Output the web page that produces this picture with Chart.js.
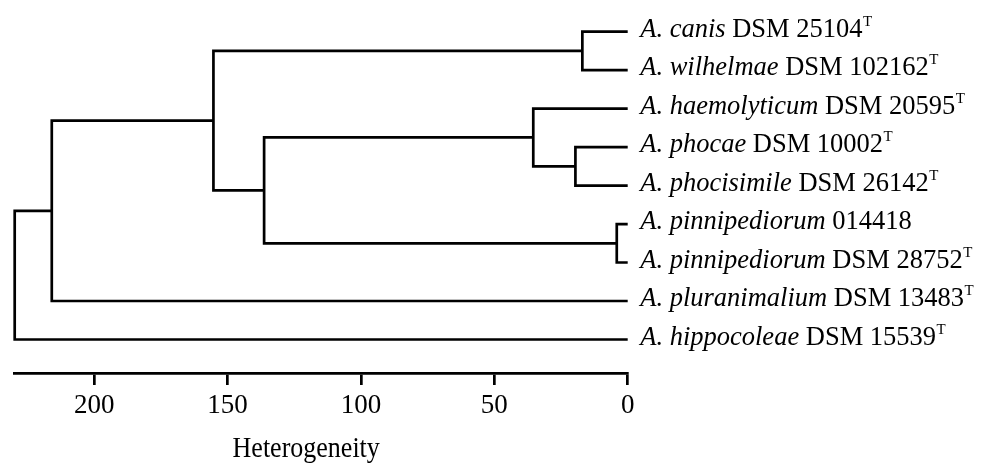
<!DOCTYPE html>
<html>
<head>
<meta charset="utf-8">
<script src="https://cdn.jsdelivr.net/npm/chart.js@4/dist/chart.umd.min.js"></script>
<style>
  html, body { margin: 0; padding: 0; background: #fff; }
  #wrap { width: 987px; height: 463px; }
</style>
</head>
<body>
<div id="wrap"><canvas id="tree" width="987" height="463"></canvas></div>
<script>
// leaves, top to bottom
const species = ['A. canis', 'A. wilhelmae', 'A. haemolyticum', 'A. phocae', 'A. phocisimile',
                 'A. pinnipediorum', 'A. pinnipediorum', 'A. pluranimalium', 'A. hippocoleae'];
const strains = ['DSM 25104', 'DSM 102162', 'DSM 20595', 'DSM 10002', 'DSM 26142',
                 '014418', 'DSM 28752', 'DSM 13483', 'DSM 15539'];
const typeStrain = [true, true, true, true, true, false, true, true, true];

// merges: ids 0-8 are leaves, merge i creates node 9+i
const mergeA = [0, 3, 5, 2, 12, 9, 14, 15];
const mergeB = [1, 4, 6, 10, 11, 13, 7, 8];
const mergeHeight = [17.0, 19.6, 4.1, 35.4, 136.3, 155.3, 215.9, 229.8];

const xTicks = [0, 50, 100, 150, 200];
const axisTitle = 'Heterogeneity';

const nLeaf = species.length;
const nodeRow = [], nodeH = [];
for (let i = 0; i < nLeaf; i++) { nodeRow.push(i); nodeH.push(0); }

const datasets = [];
mergeA.forEach(function(a, i) {
  const b = mergeB[i], h = mergeHeight[i];
  datasets.push({
    data: [
      {x: nodeH[a], y: nodeRow[a]},
      {x: h, y: nodeRow[a]},
      {x: h, y: nodeRow[b]},
      {x: nodeH[b], y: nodeRow[b]}
    ],
    showLine: true,
    borderColor: '#000',
    borderWidth: 2.7,
    borderJoinStyle: 'miter',
    borderCapStyle: 'butt',
    pointRadius: 0,
    tension: 0,
    clip: false
  });
  nodeRow.push((nodeRow[a] + nodeRow[b]) / 2);
  nodeH.push(h);
});

const serif = '"Liberation Serif", "Times New Roman", serif';

const labelPlugin = {
  id: 'leafLabels',
  afterDraw(chart) {
    const c = chart.ctx;
    const xs = chart.scales.x, ys = chart.scales.y;
    const x0 = xs.getPixelForValue(0) + 12.5;
    c.save();
    c.fillStyle = '#000';
    c.textBaseline = 'alphabetic';
    c.textAlign = 'left';
    species.forEach(function(sp, i) {
      const y = ys.getPixelForValue(i) + 5;
      let x = x0;
      c.font = 'italic 26.5px ' + serif;
      c.fillText(sp, x, y);
      x += c.measureText(sp).width;
      c.font = '26.5px ' + serif;
      const st = ' ' + strains[i];
      c.fillText(st, x, y);
      x += c.measureText(st).width;
      if (typeStrain[i]) {
        c.font = '15px ' + serif;
        c.fillText('T', x + 0.5, y - 11);
      }
    });
    // axis title, a bit taller than wide like the original
    c.font = '26px ' + serif;
    c.textAlign = 'center';
    c.translate((xs.left + xs.right) / 2 - 15, 457);
    c.scale(1, 1.12);
    c.fillText(axisTitle, 0, 0);
    c.restore();
  }
};

new Chart(document.getElementById('tree'), {
  type: 'scatter',
  data: { datasets: datasets },
  options: {
    responsive: false,
    animation: false,
    devicePixelRatio: 1,
    layout: { padding: { left: 14.7, right: 359.3, top: 0, bottom: 0 } },
    plugins: { legend: { display: false }, tooltip: { enabled: false } },
    scales: {
      x: {
        type: 'linear',
        reverse: true,
        min: 0,
        max: 229.8,
        afterFit: function(scale) { scale.height = 90; },
        afterBuildTicks: function(scale) {
          scale.ticks = xTicks.map(function(v) { return {value: v}; });
        },
        border: { display: true, color: '#000', width: 2.7 },
        grid: { drawOnChartArea: false, drawTicks: true, tickLength: 12, color: '#000', lineWidth: 2.7 },
        ticks: {
          color: '#000',
          padding: 5,
          maxRotation: 0,
          font: { family: serif, size: 27 }
        }
      },
      y: {
        type: 'linear',
        display: false,
        reverse: true,
        min: -0.82,
        max: 8.87
      }
    }
  },
  plugins: [labelPlugin]
});
</script>
</body>
</html>
